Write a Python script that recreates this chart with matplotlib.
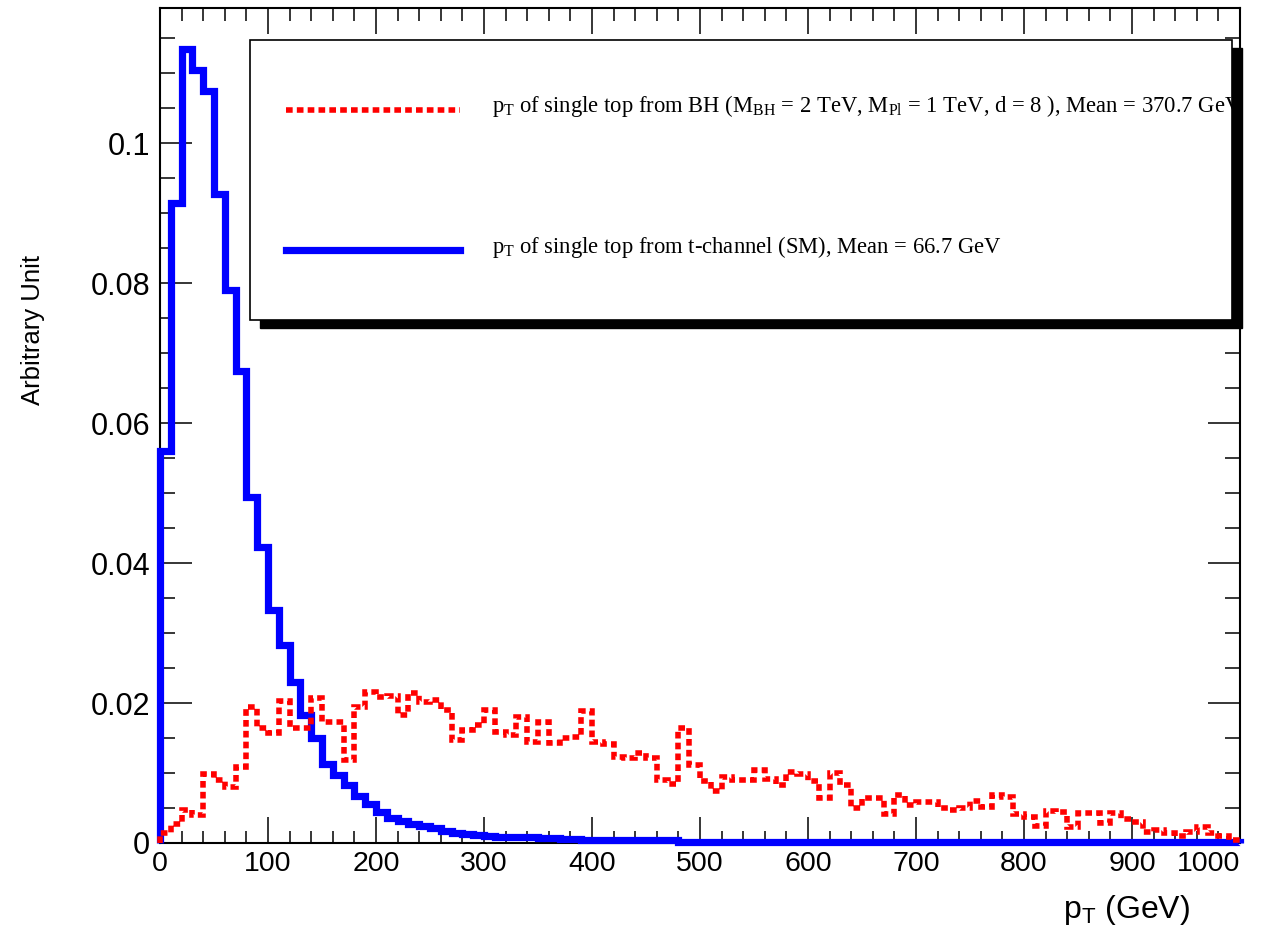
import numpy as np
import matplotlib
matplotlib.use("Agg")
import matplotlib.pyplot as plt
from matplotlib.patches import Rectangle
from matplotlib.ticker import MultipleLocator, FixedLocator, FuncFormatter
from matplotlib import font_manager

# ==============================
# Data: 10 GeV bins from 0 to 1000 GeV
# ==============================
bin_edges = np.linspace(0, 1000, 101)
x_ticks = [0, 100, 200, 300, 400, 500, 600, 700, 800, 900, 1000]

# single top from t-channel (SM)
sm_values = [
    0.0560, 0.0914, 0.1135, 0.1105, 0.1075, 0.0927, 0.0790, 0.0675, 0.0495, 0.0423,
    0.0333, 0.0283, 0.0230, 0.0183, 0.0150, 0.0113, 0.0097, 0.0083, 0.0067, 0.0056,
    0.0044, 0.0036, 0.0031, 0.0027, 0.0024, 0.0021, 0.0017, 0.0015, 0.0013, 0.0011,
    0.0010, 0.0009, 0.0009, 0.0008, 0.0008, 0.0007, 0.0007, 0.0006, 0.0006, 0.0005,
    0.0004, 0.0004, 0.0004, 0.0004, 0.0004, 0.0004, 0.0004, 0.0004, 0.0001, 0.0001,
    0.0001, 0.0001, 0.0001, 0.0001, 0.0001, 0.0001, 0.0001, 0.0001, 0.0001, 0.0001,
    0.0001, 0.0001, 0.0001, 0.0001, 0.0001, 0.0001, 0.0001, 0.0001, 0.0001, 0.0001,
    0.0001, 0.0001, 0.0001, 0.0001, 0.0001, 0.0001, 0.0001, 0.0001, 0.0001, 0.0001,
    0.0001, 0.0001, 0.0001, 0.0001, 0.0001, 0.0001, 0.0001, 0.0001, 0.0001, 0.0001,
    0.0001, 0.0001, 0.0001, 0.0001, 0.0001, 0.0001, 0.0001, 0.0001, 0.0001, 0.0001,
]

# single top from black hole
bh_values = [
    0.0014, 0.0027, 0.0047, 0.0040, 0.0099, 0.0090, 0.0080, 0.0109, 0.0195, 0.0164,
    0.0157, 0.0203, 0.0165, 0.0165, 0.0207, 0.0173, 0.0173, 0.0119, 0.0195, 0.0216,
    0.0209, 0.0210, 0.0183, 0.0215, 0.0202, 0.0205, 0.0190, 0.0147, 0.0162, 0.0168,
    0.0190, 0.0159, 0.0154, 0.0180, 0.0145, 0.0173, 0.0143, 0.0150, 0.0152, 0.0188,
    0.0145, 0.0142, 0.0123, 0.0121, 0.0128, 0.0121, 0.0090, 0.0085, 0.0164, 0.0111,
    0.0088, 0.0074, 0.0095, 0.0090, 0.0090, 0.0104, 0.0092, 0.0083, 0.0102, 0.0098,
    0.0088, 0.0064, 0.0100, 0.0083, 0.0050, 0.0064, 0.0064, 0.0042, 0.0069, 0.0055,
    0.0059, 0.0059, 0.0050, 0.0047, 0.0050, 0.0060, 0.0052, 0.0068, 0.0066, 0.0042,
    0.0037, 0.0025, 0.0046, 0.0045, 0.0023, 0.0043, 0.0043, 0.0029, 0.0043, 0.0035,
    0.0030, 0.0016, 0.0018, 0.0015, 0.0010, 0.0016, 0.0023, 0.0015, 0.0010, 0.0004,
]

bh_label = (r"$\mathregular{p_T}$ of single top from BH (M$\mathregular{_{BH}}$ = 2 TeV, "
            r"M$\mathregular{_{Pl}}$ = 1 TeV, d = 8 ), Mean = 370.7 GeV")
sm_label = r"$\mathregular{p_T}$ of single top from t-channel (SM), Mean = 66.7 GeV"

# ==============================
# Fonts
# ==============================
names = {f.name for f in font_manager.fontManager.ttflist}
narrow = "Liberation Sans Narrow" if "Liberation Sans Narrow" in names else "Liberation Sans"
plt.rcParams["font.family"] = ["Liberation Sans", "DejaVu Sans"]

# ==============================
# Figure
# ==============================
W, H = 1281, 951
fig = plt.figure(figsize=(W / 100, H / 100), dpi=100)
ax = fig.add_axes([160 / W, (H - 843) / H, 1080 / W, 835 / H])

ax.stairs(sm_values, bin_edges, color="#0000ff", lw=5.2, clip_on=False, zorder=3)
ax.stairs(bh_values, bin_edges, color="#ff0000", lw=4.0, linestyle=(0, (1.2, 0.75)),
          clip_on=False, zorder=4)

ax.set_xlim(0, 1000)
ax.set_ylim(0, 0.1193)

ax.xaxis.set_major_locator(FixedLocator(x_ticks))
ax.xaxis.set_minor_locator(MultipleLocator(20))
ax.yaxis.set_major_locator(MultipleLocator(0.02))
ax.yaxis.set_minor_locator(MultipleLocator(0.005))
ax.yaxis.set_major_formatter(FuncFormatter(lambda v, p: "%g" % round(v, 4)))
ax.set_xticklabels([str(t) for t in x_ticks])

ax.tick_params(which="both", direction="in", top=True, right=True, width=1.1, colors="black")
ax.tick_params(axis="x", which="major", length=19, pad=6, labelsize=20.5)
ax.tick_params(axis="x", which="minor", length=9)
ax.tick_params(axis="y", which="major", length=23, pad=7, labelsize=22)
ax.tick_params(axis="y", which="minor", length=11)

# last x label sits inside the frame, as in the original
for lab in ax.get_xticklabels():
    if lab.get_text() == "1000":
        lab.set_horizontalalignment("right")

for s in ax.spines.values():
    s.set_linewidth(1.5)

# axis titles
fig.text(33 / W, 1 - 330 / H, "Arbitrary Unit", rotation=90, ha="center", va="center",
         fontsize=18.5, family=[narrow, "DejaVu Sans"])
fig.text(1126 / W, 1 - 910 / H, r"p$\mathregular{_T}$ (GeV)", ha="center", va="center",
         fontsize=23, family=[narrow, "DejaVu Sans"])

# ==============================
# Legend box with shadow
# ==============================
def px(x, y):
    return ((x - 160) / 1080, (843 - y) / 835)

x0, y1 = px(250, 40)
x1, y0 = px(1232, 320)
sx, sy = 10 / 1080, 8 / 835
shadow = Rectangle((x0 + sx, y0 - sy), x1 - x0, y1 - y0, transform=ax.transAxes,
                   facecolor="black", edgecolor="black", clip_on=False, zorder=5)
box = Rectangle((x0, y0), x1 - x0, y1 - y0, transform=ax.transAxes,
                facecolor="white", edgecolor="black", lw=1.2, clip_on=False, zorder=6)
ax.add_patch(shadow)
ax.add_patch(box)

lx0, _ = px(286, 0)
lx1, _ = px(460, 0)
_, ry = px(0, 110)
_, by = px(0, 250)
ax.plot([lx0, lx1], [ry, ry], transform=ax.transAxes, color="#ff0000", lw=4.0,
        linestyle=(0, (1.2, 0.75)), clip_on=False, zorder=7)
ax.plot([lx0, lx1], [by, by], transform=ax.transAxes, color="#0000ff", lw=5.2,
        clip_on=False, zorder=7)

tx, _ = px(492, 0)
for label, yy in [(bh_label, 106), (sm_label, 247)]:
    t = ax.text(tx, px(0, yy)[1], label, transform=ax.transAxes, ha="left", va="center",
                fontsize=16.3, family=["Liberation Serif", "DejaVu Serif"], zorder=8)
    t.set_clip_path(box)

fig.savefig("out.png", dpi=100)
